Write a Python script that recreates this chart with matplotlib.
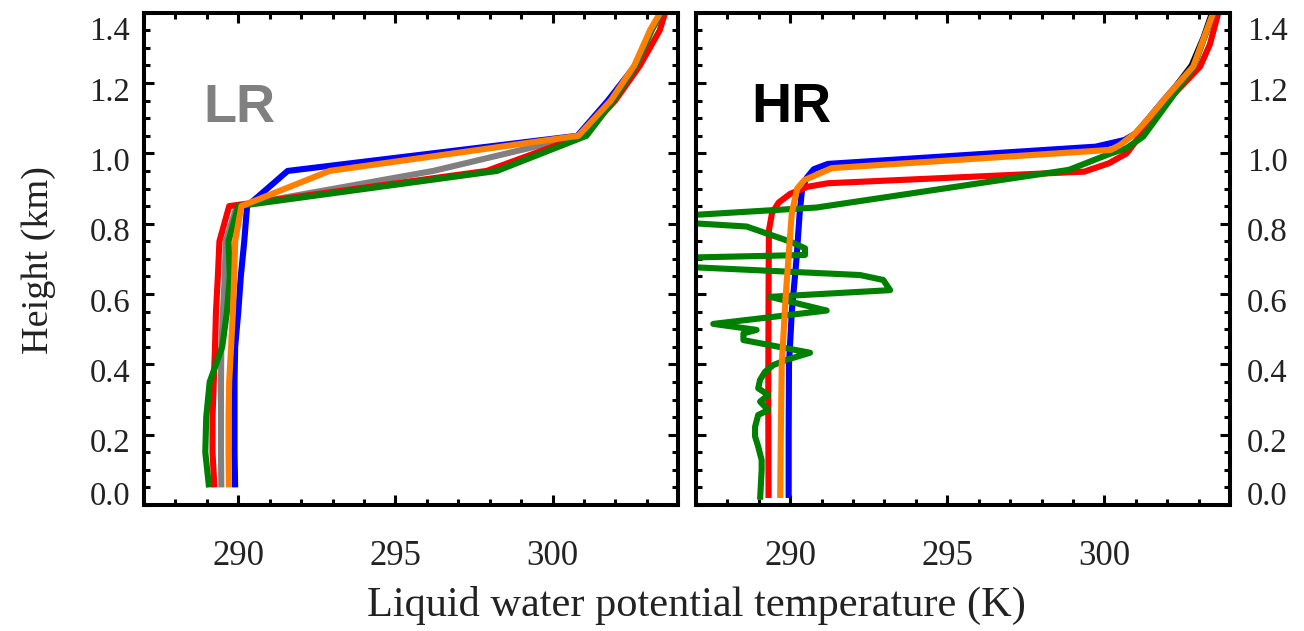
import matplotlib
matplotlib.use('Agg')
import matplotlib.pyplot as plt
from matplotlib.ticker import MultipleLocator, FixedLocator
import matplotlib.transforms as mtransforms

# ---------------- data ----------------
# Low resolution (LR) profiles: height (km) and liquid water potential temperature (K)
lr_height = [0.05, 0.15, 0.25, 0.35, 0.45, 0.55, 0.65, 0.75, 0.85, 0.95, 1.05, 1.15, 1.25, 1.35, 1.45]
lr_gray   = [289.46, 289.45, 289.45, 289.45, 289.46, 289.51, 289.57, 289.60, 289.95, 296.20, 300.90, 301.85, 302.65, 303.15, 303.75]
lr_blue   = [289.90, 289.88, 289.88, 289.88, 289.90, 290.00, 290.08, 290.19, 290.28, 291.57, 300.79, 301.76, 302.63, 303.12, 303.80]
lr_red    = [289.24, 289.18, 289.18, 289.22, 289.26, 289.29, 289.35, 289.40, 289.71, 297.90, 300.96, 301.99, 302.78, 303.41, 303.75]
lr_green  = [289.07, 288.95, 288.98, 289.09, 289.49, 289.64, 289.73, 289.69, 290.00, 298.23, 301.08, 301.93, 302.65, 303.15, 303.75]
lr_orange = [289.70, 289.69, 289.69, 289.71, 289.77, 289.83, 289.87, 289.90, 290.10, 292.90, 300.82, 301.85, 302.60, 303.10, 303.75]

# High resolution (HR) profiles
hr_blue_h = [0.02, 0.20, 0.40, 0.55, 0.70, 0.83, 0.90, 0.93, 0.955, 0.97, 1.019, 1.038, 1.057, 1.104, 1.161, 1.247, 1.40, 1.45]
hr_blue   = [289.95, 289.95, 289.96, 290.05, 290.20, 290.30, 290.38, 290.52, 290.75, 291.20, 299.72, 300.64, 301.00, 301.45, 301.98, 302.83, 303.47, 303.68]

hr_red_h  = [0.02, 0.30, 0.60, 0.78, 0.83, 0.86, 0.885, 0.905, 0.915, 0.948, 0.972, 1.00, 1.057, 1.152, 1.247, 1.31, 1.40, 1.45]
hr_red    = [289.31, 289.30, 289.31, 289.32, 289.42, 289.63, 290.00, 290.55, 291.20, 299.36, 300.15, 300.71, 301.20, 302.04, 303.05, 303.36, 303.63, 303.80]

hr_orange_h = [0.02, 0.20, 0.40, 0.60, 0.735, 0.83, 0.90, 0.924, 0.958, 1.01, 1.024, 1.057, 1.104, 1.161, 1.247, 1.30, 1.35, 1.40, 1.45]
hr_orange   = [289.68, 289.70, 289.73, 289.86, 289.97, 290.05, 290.22, 290.45, 291.32, 300.21, 300.50, 300.98, 301.45, 301.98, 302.83, 303.05, 303.26, 303.47, 303.68]

hr_black_h = [1.15, 1.25, 1.33, 1.40, 1.45]
hr_black   = [301.93, 302.78, 303.16, 303.43, 303.64]

hr_green_h = [0.015, 0.10, 0.128, 0.166, 0.195, 0.222, 0.256, 0.270, 0.294, 0.313, 0.332, 0.356,
              0.379, 0.398, 0.413, 0.433, 0.469, 0.488, 0.498, 0.515, 0.553, 0.592, 0.611, 0.640,
              0.654, 0.676, 0.704, 0.711, 0.730, 0.749, 0.792, 0.801, 0.825, 0.846, 0.953, 1.00,
              1.015, 1.048, 1.152, 1.247, 1.40, 1.45]
hr_green   = [289.04, 289.09, 289.09, 288.98, 288.88, 288.88, 288.98, 289.30, 289.04, 289.30, 288.98, 289.04,
              289.20, 289.46, 289.89, 290.63, 288.51, 288.51, 288.93, 287.55, 291.16, 289.36, 293.18, 292.96,
              292.22, 286.95, 286.95, 290.47, 290.47, 290.00, 288.61, 286.95, 286.95, 290.84, 298.87, 300.21,
              300.71, 301.24, 302.09, 302.85, 303.47, 303.70]

xticks = [290, 295, 300]
yticks = [0.0, 0.2, 0.4, 0.6, 0.8, 1.0, 1.2, 1.4]
ytick_labels = ['0.0', '0.2', '0.4', '0.6', '0.8', '1.0', '1.2', '1.4']

# ---------------- figure ----------------
W, H = 1304, 631
fig = plt.figure(figsize=(W / 100, H / 100), dpi=100)
bottom = (H - 505) / H
height = 492.3 / H
axL = fig.add_axes([144 / W, bottom, 534.3 / W, height])
axR = fig.add_axes([696 / W, bottom, 534.0 / W, height])

BLUE = '#0000ff'
RED = '#ff0000'
GREEN = '#008000'
ORANGE = '#ff8000'
GRAY = '#808080'
TXT = '#222222'
LW = 4.4

kw = dict(lw=LW, solid_capstyle='butt', solid_joinstyle='round')
axL.plot(lr_gray, lr_height, color=GRAY, **kw)
axL.plot(lr_blue, lr_height, color=BLUE, **kw)
axL.plot(lr_red, lr_height, color=RED, **kw)
axL.plot(lr_green, lr_height, color=GREEN, **kw)
axL.plot(lr_orange, lr_height, color=ORANGE, **kw)

axR.plot(hr_black, hr_black_h, color='black', **kw)
axR.plot(hr_blue, hr_blue_h, color=BLUE, **kw)
axR.plot(hr_red, hr_red_h, color=RED, **kw)
axR.plot(hr_green, hr_green_h, color=GREEN, **kw)
axR.plot(hr_orange, hr_orange_h, color=ORANGE, **kw)

for ax in (axL, axR):
    ax.set_xlim(287, 304)
    ax.set_ylim(0, 1.4)
    ax.xaxis.set_major_locator(FixedLocator(xticks))
    ax.xaxis.set_minor_locator(MultipleLocator(1))
    ax.yaxis.set_major_locator(FixedLocator(yticks))
    ax.yaxis.set_minor_locator(MultipleLocator(0.05))
    for s in ax.spines.values():
        s.set_linewidth(2.9)
        s.set_color('black')
    ax.tick_params(which='both', direction='in', top=True, right=True, bottom=True, left=True,
                   width=2.2, color='black')
    ax.tick_params(which='major', length=7.2)
    ax.tick_params(which='minor', length=4.0)
    ax.tick_params(axis='x', which='major', pad=25, labelsize=25, labelcolor=TXT)
    ax.set_xticklabels([str(v) for v in xticks], family='Liberation Serif')

axL.tick_params(axis='y', which='major', pad=10, labelsize=23.5, labelcolor=TXT,
                labelleft=True, labelright=False)
axR.tick_params(axis='y', which='major', pad=12, labelsize=23.5, labelcolor=TXT,
                labelleft=False, labelright=True)
for ax in (axL, axR):
    ax.set_yticklabels(ytick_labels, family='Liberation Serif')

# IDL-like label placement: labels slightly below ticks, end labels pulled inward
offsets_px = {0: 12, 7: -16}
for ax in (axL, axR):
    ticks = ax.yaxis.get_major_ticks()
    for i, t in enumerate(ticks):
        dy = offsets_px.get(i, -6) * 0.72 / 72.0
        off = mtransforms.ScaledTranslation(0, dy, fig.dpi_scale_trans)
        t.label1.set_transform(t.label1.get_transform() + off)
        t.label2.set_transform(t.label2.get_transform() + off)

axL.text(0.112, 0.7786, 'LR', transform=axL.transAxes, ha='left', va='baseline',
         fontsize=39, fontweight='bold', color=GRAY, family='Liberation Sans')
axR.text(0.104, 0.778, 'HR', transform=axR.transAxes, ha='left', va='baseline',
         fontsize=40, fontweight='bold', color='black', family='Liberation Sans')

fig.text(696 / W, 1 - 605 / H, 'Liquid water potential temperature (K)', ha='center', va='center',
         fontsize=30.5, color=TXT, family='Liberation Serif')
fig.text(39 / W, 1 - 260 / H, 'Height (km)', ha='center', va='center', rotation=90,
         fontsize=27.5, color=TXT, family='Liberation Serif')

fig.savefig('out.png', dpi=100)
